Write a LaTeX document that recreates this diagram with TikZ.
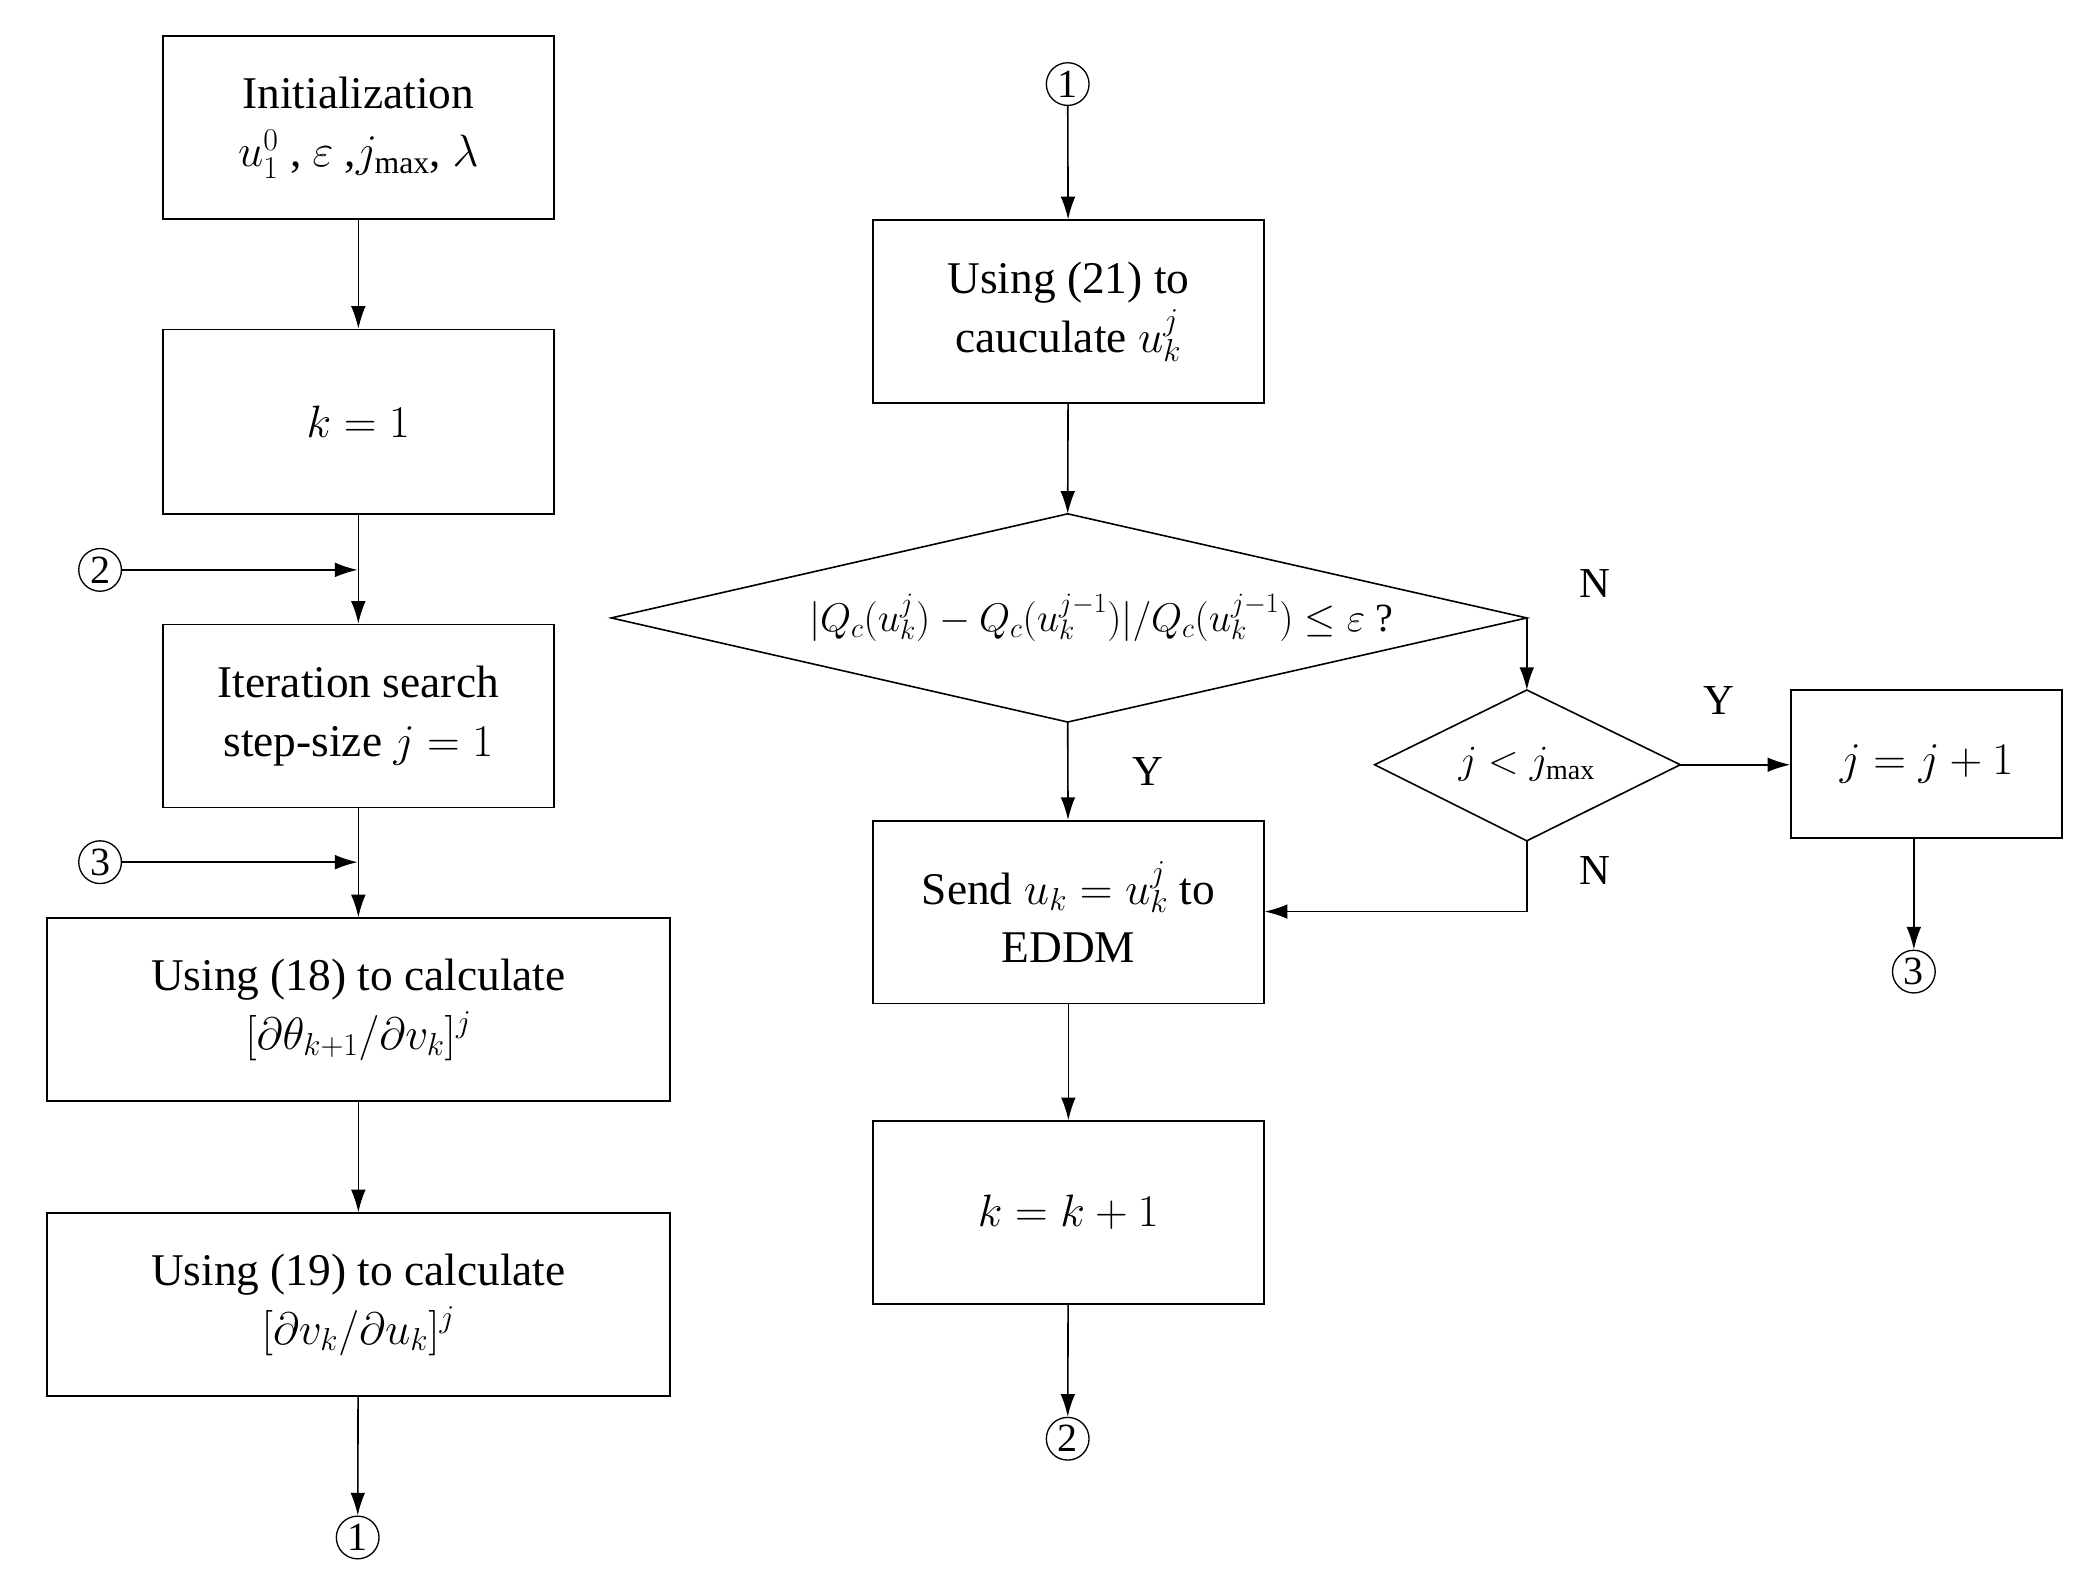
\RequirePackage{fix-cm}
\documentclass[tikz,border=0pt]{standalone}
\usepackage{fontspec}
\setmainfont{Liberation Serif}
\usetikzlibrary{arrows.meta,shapes.geometric}
\begin{document}
\begin{tikzpicture}[x=1pt,y=-1pt,
 box/.style={draw,line width=1.2pt,inner sep=0pt,align=center,font=\fontsize{34}{44}\selectfont},
 cir/.style={draw,circle,line width=1pt,minimum size=32pt,inner sep=0pt,font=\fontsize{30}{30}\selectfont},
 lab/.style={font=\fontsize{32}{32}\selectfont},
 arr/.style={line width=1.2pt,-{Latex[length=17pt,width=11pt]}},
 ln/.style={line width=1.2pt}]
\useasboundingbox (0,0) rectangle (1560,1175);
\newcommand{\bx}[6]{\node[box,minimum width=#3-#2,minimum height=#5-#4] (#1) at ({(#2+#3)/2},{(#4+#5)/2}) {#6};}
\bx{init}{122}{415}{27}{164}{Initialization\\$u_1^0$ , $\varepsilon$ ,$j_{\max}$, $\lambda$}
\bx{k1}{122}{415}{247}{385}{$k=1$}
\bx{iter}{122}{415}{468}{605}{Iteration search\\step-size $j=1$}
\bx{u18}{35}{502}{688}{825}{Using (18) to calculate\\$[\partial\theta_{k+1}/\partial v_k]^j$}
\bx{u19}{35}{502}{909}{1046}{Using (19) to calculate\\$[\partial v_k/\partial u_k]^j$}
\bx{u21}{654}{947}{165}{302}{Using (21) to\\cauculate $u_k^j$}
\bx{send}{654}{947}{615}{752}{Send $u_k=u_k^j$ to\\EDDM}
\bx{kk}{654}{947}{840}{977}{$k=k+1$}
\bx{jj}{1342}{1545}{517}{628}{$j=j+1$}
\node[cir] (c2a) at (75,427) {2};
\node[cir] (c3a) at (75,646) {3};
\node[cir] (c1a) at (268,1152) {1};
\node[cir] (c1b) at (800,63) {1};
\node[cir] (c2b) at (800,1078) {2};
\node[cir] (c3b) at (1434,728) {3};
\coordinate (m2) at (268,427);
\coordinate (m3) at (268,646);
\draw[ln] (458,463) -- (800,385) -- (1144,463) -- (800,541) -- cycle;
\coordinate (dT) at (800,385); \coordinate (dB) at (800,541); \coordinate (dR) at (1144,463);
\node[font=\fontsize{30}{30}\selectfont] at (825,463) {$\Big|Q_c(u_k^j)-Q_c(u_k^{j-1})\Big|\Big/Q_c(u_k^{j-1})\le\varepsilon$ ?};
\draw[ln] (1030,573) -- (1144,517) -- (1259,573) -- (1144,630) -- cycle;
\coordinate (sT) at (1144,517); \coordinate (sB) at (1144,630); \coordinate (sR) at (1259,573);
\node[font=\fontsize{30}{30}\selectfont] at (1144,573) {$j<j_{\max}$};
\draw[arr] (init) -- (k1);
\draw[arr] (k1) -- (iter);
\draw[arr] (c2a) -- (m2);
\draw[arr] (iter) -- (u18);
\draw[arr] (c3a) -- (m3);
\draw[arr] (u18) -- (u19);
\draw[arr] (u19) -- (c1a);
\draw[arr] (c1b) -- (u21);
\draw[arr] (u21) -- (dT);
\draw[arr] (dB) -- (send);
\draw[arr] (dR) -- (sT);
\draw[arr] (sR) -- (jj.west|-sR);
\draw[arr] (jj.south-|c3b) -- (c3b);
\draw[arr] (sB) |- (send.east|-0,683);
\draw[arr] (send) -- (kk);
\draw[arr] (kk) -- (c2b);
\node[lab] at (1195,437) {N};
\node[lab] at (1195,652) {N};
\node[lab] at (1288,525) {Y};
\node[lab] at (860,578) {Y};
\end{tikzpicture}
\end{document}
